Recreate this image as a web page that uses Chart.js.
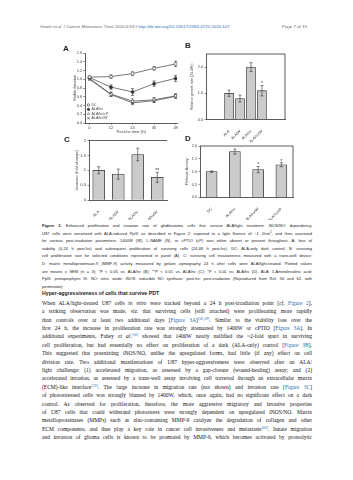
<!DOCTYPE html>
<html>
<head>
<meta charset="utf-8">
<script src="https://cdn.jsdelivr.net/npm/chart.js@4.4.1/dist/chart.umd.min.js"></script>
<style>
  html, body { margin: 0; padding: 0; background: #fff; }
  body { width: 353px; height: 480px; position: relative; overflow: hidden; font-family: "Liberation Sans", Arial, sans-serif; color: #222; }
  canvas { position: absolute; }
  .t { position: absolute; white-space: nowrap; }
  .panel { font-weight: bold; font-size: 8px; line-height: 8px; }
  .cap, .body { position: absolute; left: 42px; width: 270px; text-align: justify; text-align-last: justify; }
  .cap { font-size: 4px; height: 7.6px; line-height: 7.6px; }
  .body { font-family: "Liberation Serif", serif; font-size: 5.5px; height: 8.4px; line-height: 8.4px; color: #111; }
  .end { text-align-last: left; }
  a { color: #2d6db5; text-decoration: none; }
  sup { font-size: 70%; line-height: 0; vertical-align: 0.55em; }
</style>
</head>
<body>
<canvas id="chartA" width="122" height="92" style="left:60px;top:44px"></canvas>
<canvas id="chartB" width="108" height="98" style="left:184px;top:44px"></canvas>
<canvas id="chartC" width="124" height="84" style="left:60px;top:136px"></canvas>
<canvas id="chartD" width="110" height="84" style="left:184px;top:136px"></canvas>

<div class="t" style="left:40px;top:23.5px;font-size:4.4px;color:#666">Girotti <i>et al</i>. / Cancer Metastasis Treat 2020;6:53 I <a>http://dx.doi.org/10.20517/2394-4722.2020.107</a></div>
<div class="t" style="left:282px;top:23.5px;font-size:4.4px;color:#666">Page 7 of 15</div>

<div class="t panel" style="left:63px;top:45px">A</div>
<div class="t panel" style="left:185px;top:42px">B</div>
<div class="t panel" style="left:64px;top:136px">C</div>
<div class="t panel" style="left:185px;top:135px">D</div>

<div class="t" style="left:42px;top:290px;font-size:5.2px;font-weight:bold;color:#222">Hyper-aggressiveness of cells that survive PDT</div>

<div id="caption"></div>
<div id="text"></div>

<script>
// panel A: viable fraction over time
const timesA = [0, 12, 24, 36, 48];
const namesA = ['DC', 'ALA/hv', 'ALA/hv/cP', 'ALA/hv/W'];
const viableDC = [1.05, 1.06, 1.13, 1.25, 1.35];
const viableHv = [1.04, 0.82, 0.71, 0.90, 1.02];
const viableCp = [1.02, 0.66, 0.50, 0.53, 0.62];
const viableW = [1.00, 0.65, 0.46, 0.51, 0.61];
const errDC = [0.02, 0.04, 0.04, 0.04, 0.06];
const errHv = [0.02, 0.05, 0.08, 0.06, 0.07];
const errCp = [0.02, 0.05, 0.05, 0.05, 0.05];
const errW = [0.02, 0.04, 0.04, 0.04, 0.04];

// panel B: growth rate 24-48h
const groupsB = ['ALA', 'ALA/W', 'ALA/hv', 'ALA/hv/W'];
const growthB = [1.0, 0.8, 2.0, 1.1];
const errB = [0.12, 0.13, 0.17, 0.2];
const marksB = ['', '', '', '*'];
const ticksB = [0, 1, 2];

// panel C: invasion
const groupsC = ['ALA', 'ALA/W', 'ALA/hv', 'ALA/hv/W'];
const invasionC = [1.0, 0.87, 1.53, 0.76];
const errC = [0.12, 0.17, 0.21, 0.17];
const marksC = ['', '', '', '**'];

// panel D: MMP-9 activity
const groupsD = ['DC', 'ALA/hv', 'ALA/hv/W', 'ALA/hv/cP'];
const activityD = [1.0, 1.78, 1.08, 1.27];
const errD = [0.03, 0.1, 0.12, 0.08];
const marksD = ['', '', '*', '*'];

const captionLines = [
  '<b>Figure 3.</b> Enhanced proliferation and invasion rate of glioblastoma cells that survive ALA/light treatment: iNOS/NO dependency.',
  'U87 cells were sensitized with ALA-induced PpIX as described in Figure 2, exposed to a light fluence of ~1 J/cm<sup>2</sup>, and then assessed',
  'for various post-irradiation parameters. 1400W (W), L-NAME (N), or cPTIO (cP) was either absent or present throughout. A: loss of',
  'viability (0-24 h post-hv) and subsequent proliferation of surviving cells (24-48 h post-hv); DC: ALA-only dark control; B: surviving',
  'cell proliferation rate for selected conditions represented in panel (A); C: surviving cell invasiveness measured with a trans-well device;',
  'D: matrix metalloproteinase-9 (MMP-9) activity measured by gelatin zymography 24 h after cells were ALA/light-treated. Plotted values',
  'are means ± SEM (n = 3); *P &lt; 0.05 vs. ALA/hv (B); **P &lt; 0.01 vs. ALA/hv (C); *P &lt; 0.01 vs. ALA/hv (D). ALA: 5-Aminolevulinic acid;',
  'PpIX: protoporphyrin IX; NO: nitric oxide; iNOS: inducible NO synthase; post-hv: post-irradiation (Reproduced from Ref. 56 and 62, with',
  'permission)'
];

const bodyLines = [
  'When ALA/light-treated U87 cells <i>in vitro</i> were tracked beyond a 24 h post-irradiation point [<i>cf.</i> <a>Figure 2</a>],',
  'a striking observation was made, <i>viz.</i> that surviving cells (still attached) were proliferating more rapidly',
  'than controls over at least two additional days [<a>Figure 3A</a>]<sup><a>[56,59]</a></sup>. Similar to the viability loss over the',
  'first 24 h, the increase in proliferation rate was strongly attenuated by 1400W or cPTIO [<a>Figure 3A</a>]. In',
  'additional experiments, Fahey <i>et al.</i><sup><a>[56]</a></sup> showed that 1400W nearly nullified the ~2-fold spurt in surviving',
  'cell proliferation, but had essentially no effect on proliferation of a dark (ALA-only) control [<a>Figure 3B</a>].',
  'This suggested that preexisting iNOS/NO, unlike the upregulated forms, had little (if any) effect on cell',
  'division rate. Two additional manifestations of U87 hyper-aggressiveness were observed after an ALA/',
  'light challenge: (1) accelerated migration, as assessed by a gap-closure (wound-healing) assay; and (2)',
  'accelerated invasion, as assessed by a trans-well assay involving cell traversal through an extracellular matrix',
  '(ECM)-like interface<sup><a>[59]</a></sup>. The large increase in migration rate (not shown) and invasion rate [<a>Figure 3C</a>]',
  'of photostressed cells was strongly blunted by 1400W, which, once again, had no significant effect on a dark',
  'control. As observed for proliferation, therefore, the more aggressive migratory and invasive properties',
  'of U87 cells that could withstand photostress were strongly dependent on upregulated iNOS/NO. Matrix',
  'metalloproteinases (MMPs) such as zinc-containing MMP-9 catalyze the degradation of collagen and other',
  'ECM components, and thus play a key role in cancer cell invasiveness and metastasis<sup><a>[60]</a></sup>. Innate migration',
  'and invasion of glioma cells is known to be promoted by MMP-9, which becomes activated by proteolytic'
];

captionLines.forEach((html, i) => {
  const d = document.createElement('div');
  d.className = 'cap' + (i === captionLines.length - 1 ? ' end' : '');
  d.style.top = (222 + i * 7.6) + 'px';
  d.innerHTML = html;
  document.getElementById('caption').appendChild(d);
});
bodyLines.forEach((html, i) => {
  const d = document.createElement('div');
  d.className = 'body';
  d.style.top = (298.8 + i * 8.4) + 'px';
  d.innerHTML = html;
  document.getElementById('text').appendChild(d);
});

Chart.defaults.font.family = '"Liberation Sans", Arial, sans-serif';
Chart.defaults.color = '#444';

function marker(ctx, style, x, y, r) {
  ctx.beginPath();
  if (style === 'rectRot') {
    ctx.moveTo(x, y - r); ctx.lineTo(x + r, y); ctx.lineTo(x, y + r); ctx.lineTo(x - r, y); ctx.closePath();
    ctx.fill(); ctx.stroke();
  } else if (style === 'crossRot') {
    ctx.moveTo(x - r, y - r); ctx.lineTo(x + r, y + r);
    ctx.moveTo(x + r, y - r); ctx.lineTo(x - r, y + r);
    ctx.stroke();
  } else {
    ctx.arc(x, y, r, 0, Math.PI * 2);
    ctx.fill(); ctx.stroke();
  }
}

// error bars, stars above them
const errorBars = {
  id: 'errorBars',
  beforeDatasetsDraw(chart, args, opts) { if (opts.under) this.draw(chart); },
  afterDatasetsDraw(chart, args, opts) { if (!opts.under) this.draw(chart); },
  draw(chart) {
    const ctx = chart.ctx;
    const ys = chart.scales.y;
    chart.data.datasets.forEach((ds, di) => {
      if (!ds.errors) return;
      const meta = chart.getDatasetMeta(di);
      ctx.save();
      ctx.strokeStyle = '#333';
      ctx.fillStyle = '#333';
      ctx.lineWidth = 0.6;
      meta.data.forEach((el, i) => {
        const raw = ds.data[i];
        const v = typeof raw === 'object' ? raw.y : raw;
        const e = ds.errors[i];
        const top = ys.getPixelForValue(v + e);
        const bot = ys.getPixelForValue(v - e);
        ctx.beginPath();
        ctx.moveTo(el.x, top); ctx.lineTo(el.x, bot);
        ctx.moveTo(el.x - 1.5, top); ctx.lineTo(el.x + 1.5, top);
        ctx.moveTo(el.x - 1.5, bot); ctx.lineTo(el.x + 1.5, bot);
        ctx.stroke();
        if (ds.marks && ds.marks[i]) {
          ctx.font = '5px "Liberation Sans"';
          ctx.textAlign = 'center';
          ctx.textBaseline = 'bottom';
          ctx.fillText(ds.marks[i], el.x, top + 1);
        }
      });
      ctx.restore();
    });
  }
};

const frame = {
  id: 'frame',
  afterDraw(chart, args, opts) {
    if (!opts.sides) return;
    const {ctx, chartArea: a} = chart;
    ctx.save();
    ctx.strokeStyle = '#333';
    ctx.lineWidth = 0.8;
    ctx.beginPath();
    if (opts.sides.includes('top')) { ctx.moveTo(a.left, a.top); ctx.lineTo(a.right, a.top); }
    if (opts.sides.includes('right')) { ctx.moveTo(a.right, a.top); ctx.lineTo(a.right, a.bottom); }
    ctx.stroke();
    ctx.restore();
  }
};

const insideLegend = {
  id: 'insideLegend',
  afterDraw(chart, args, opts) {
    if (!opts.show) return;
    const {ctx, chartArea} = chart;
    ctx.save();
    ctx.font = '3.6px "Liberation Sans"';
    ctx.textBaseline = 'middle';
    ctx.lineWidth = 0.6;
    chart.data.datasets.forEach((ds, i) => {
      const x = chartArea.left + 3.5;
      const y = chartArea.bottom - 18 + i * 4.4;
      ctx.strokeStyle = '#333';
      ctx.fillStyle = ds.pointBackgroundColor;
      marker(ctx, ds.pointStyle, x, y, 1.2);
      ctx.fillStyle = '#444';
      ctx.fillText(ds.label, x + 3, y);
    });
    ctx.restore();
  }
};

Chart.register(errorBars, frame, insideLegend);

const common = {
  responsive: false,
  animation: false,
  devicePixelRatio: 1,
  events: []
};

function axisGrid(len) {
  return {drawOnChartArea: false, drawTicks: len > 0, tickLength: len, color: '#444', lineWidth: 0.6};
}
const axisBorder = {color: '#333', width: 0.8};

function lineSeries(label, values, errors, style, fill) {
  return {
    label: label,
    data: timesA.map((t, i) => ({x: t, y: values[i]})),
    errors: errors,
    borderColor: '#555',
    borderWidth: 0.8,
    pointStyle: style,
    pointRadius: 1.5,
    pointBorderWidth: 0.6,
    pointBorderColor: '#333',
    pointBackgroundColor: fill
  };
}

new Chart(document.getElementById('chartA'), {
  type: 'line',
  data: {
    datasets: [
      lineSeries(namesA[0], viableDC, errDC, 'circle', '#fff'),
      lineSeries(namesA[1], viableHv, errHv, 'circle', '#333'),
      lineSeries(namesA[2], viableCp, errCp, 'rectRot', '#fff'),
      lineSeries(namesA[3], viableW, errW, 'crossRot', '#fff')
    ]
  },
  options: {
    ...common,
    layout: {padding: {left: 12.75, top: 9, right: 4, bottom: 1.75}},
    plugins: {legend: {display: false}, tooltip: {enabled: false}, errorBars: {under: true}, insideLegend: {show: true}},
    scales: {
      x: {
        type: 'linear', min: -2.5, max: 49,
        afterBuildTicks: s => { s.ticks = timesA.map(v => ({value: v})); },
        afterFit: s => { s.height = 11.25; },
        grid: axisGrid(1.8), border: axisBorder,
        ticks: {font: {size: 4}, padding: 1, maxRotation: 0},
        title: {display: true, text: 'Post-hv time (h)', font: {size: 4.2}, padding: 0}
      },
      y: {
        min: 0, max: 1.6,
        afterFit: s => { s.width = 12.25; },
        grid: axisGrid(1.8), border: axisBorder,
        ticks: {stepSize: 0.2, font: {size: 4}, padding: 1, callback: v => v.toFixed(1)},
        title: {display: true, text: 'Viable fraction', font: {size: 4.2}, padding: 0}
      }
    }
  }
});

function barSet(values, errors, marks, thickness, asPoints) {
  return {
    data: asPoints ? values.map((v, i) => ({x: i, y: v})) : values,
    errors: errors,
    marks: marks,
    backgroundColor: '#cbcbcb',
    borderColor: '#333',
    borderWidth: 0.8,
    barThickness: thickness
  };
}

new Chart(document.getElementById('chartB'), {
  type: 'bar',
  data: {datasets: [barSet(growthB, errB, marksB, 9, true)]},
  options: {
    ...common,
    layout: {padding: {left: 6.3, top: 10, right: 7, bottom: 0}},
    plugins: {legend: {display: false}, tooltip: {enabled: false}, frame: {sides: ['top', 'right']}},
    scales: {
      x: {
        type: 'linear', min: -1.2, max: 4.2,
        afterBuildTicks: s => { s.ticks = groupsB.map((g, i) => ({value: i})); },
        afterFit: s => { s.height = 22.5; },
        grid: {display: false}, border: axisBorder,
        ticks: {font: {size: 3.8}, padding: 1.5, minRotation: 45, maxRotation: 45, autoSkip: false, callback: v => groupsB[v]}
      },
      y: {
        min: 0, max: 2.5,
        afterBuildTicks: s => { s.ticks = ticksB.map(v => ({value: v})); },
        afterFit: s => { s.width = 15.7; },
        grid: axisGrid(1.5), border: axisBorder,
        ticks: {font: {size: 3.8}, padding: 1.5, callback: v => v.toFixed(1)},
        title: {display: true, text: 'Relative growth rate (24-48h)', font: {size: 3.6}, padding: 0}
      }
    }
  }
});

new Chart(document.getElementById('chartC'), {
  type: 'bar',
  data: {labels: groupsC, datasets: [barSet(invasionC, errC, marksC, 12, false)]},
  options: {
    ...common,
    layout: {padding: {left: 14.4, top: 4.5, right: 17, bottom: 0}},
    plugins: {legend: {display: false}, tooltip: {enabled: false}, frame: {sides: ['top']}},
    scales: {
      x: {
        afterFit: s => { s.height = 20; },
        grid: {display: false}, border: axisBorder,
        ticks: {font: {size: 4}, padding: 1.5, minRotation: 45, maxRotation: 45, autoSkip: false}
      },
      y: {
        min: 0, max: 2,
        afterFit: s => { s.width = 14.6; },
        grid: axisGrid(1.5), border: axisBorder,
        ticks: {stepSize: 0.5, font: {size: 4.2}, padding: 1.5, callback: v => String(v)},
        title: {display: true, text: 'Invasion (fold change)', font: {size: 4.1}, padding: 0}
      }
    }
  }
});

new Chart(document.getElementById('chartD'), {
  type: 'bar',
  data: {labels: groupsD, datasets: [barSet(activityD, errD, marksD, 11, false)]},
  options: {
    ...common,
    layout: {padding: {left: 0.5, top: 10, right: 1, bottom: 0}},
    plugins: {legend: {display: false}, tooltip: {enabled: false}, frame: {sides: ['top', 'right']}},
    scales: {
      x: {
        afterFit: s => { s.height = 22.7; },
        grid: {display: false}, border: axisBorder,
        ticks: {font: {size: 3.8}, padding: 1.5, minRotation: 45, maxRotation: 45, autoSkip: false}
      },
      y: {
        min: 0, max: 2,
        afterFit: s => { s.width = 15.5; },
        grid: axisGrid(1.5), border: axisBorder,
        ticks: {stepSize: 0.5, font: {size: 3.8}, padding: 1.5, callback: v => v.toFixed(1)},
        title: {display: true, text: 'Relative Activity', font: {size: 3.8}, padding: 0}
      }
    }
  }
});
</script>
</body>
</html>
